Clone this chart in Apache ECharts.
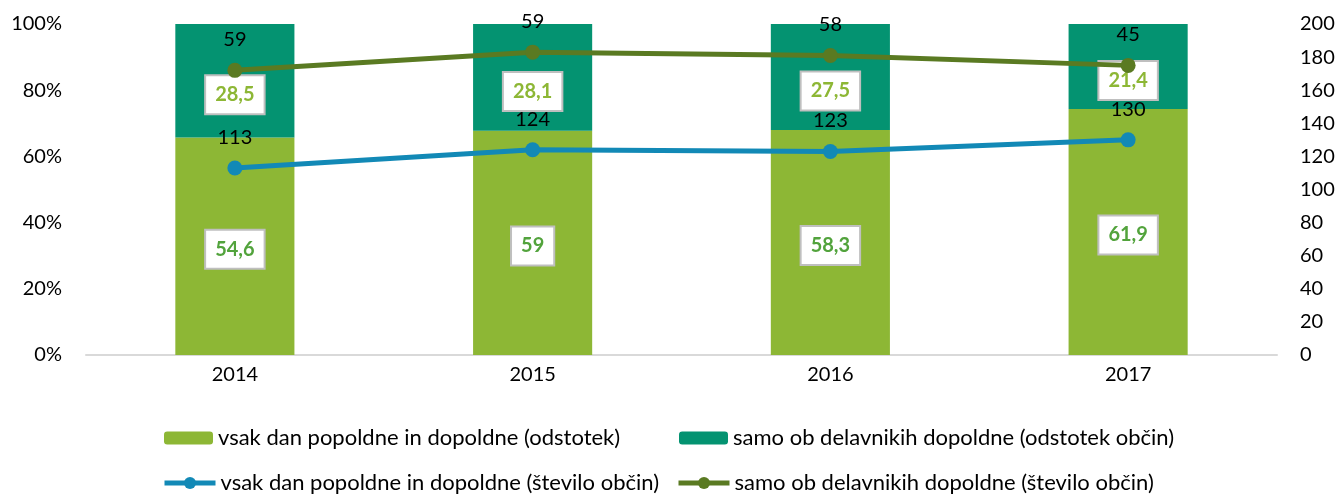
<!DOCTYPE html>
<html><head><meta charset="utf-8">
<script src="https://cdn.jsdelivr.net/npm/echarts@6/dist/echarts.min.js"></script>
<style>html,body{margin:0;padding:0;background:#fff}#c{width:1340px;height:495px}</style>
</head><body><div id="c"></div>
<script>
// ---- data ----
const years = ['2014', '2015', '2016', '2017'];
const vsakPct = [54.6, 59, 58.3, 61.9];      // vsak dan popoldne in dopoldne (odstotek)
const samoPct = [28.5, 28.1, 27.5, 21.4];    // samo ob delavnikih dopoldne (odstotek občin)
const vsakCount = [113, 124, 123, 130];      // vsak dan popoldne in dopoldne (število občin)
const samoCount = [59, 59, 58, 45];          // samo ob delavnikih dopoldne (število občin)
const names = [
  'vsak dan popoldne in dopoldne (odstotek)',
  'samo ob delavnikih dopoldne (odstotek občin)',
  'vsak dan popoldne in dopoldne (število občin)',
  'samo ob delavnikih dopoldne (število občin)'
];

// 100% stacked shares (as in the original chart type)
const vsakShare = vsakPct.map((v, i) => v / (v + samoPct[i]) * 100);
const samoShare = samoPct.map((v, i) => v / (vsakPct[i] + v) * 100);

const FONT = 'Lato';
const fmt = v => String(v).replace('.', ',');
const boxLabel = (raw, color, offset) => ({
  show: true, position: 'inside', offset: offset,
  formatter: p => fmt(raw[p.dataIndex]),
  color: color, fontFamily: FONT, fontSize: 20, fontWeight: 'bold',
  backgroundColor: '#fff', borderColor: '#bfbfbf', borderWidth: 2,
  padding: [9, 9, 8, 9]
});
const lineLabel = {
  show: true, position: 'top', distance: 13,
  color: '#000', fontFamily: FONT, fontSize: 20
};

const chart = echarts.init(document.getElementById('c'), null, {renderer: 'canvas'});
const legendBase = (left, top, name, w, h) => ({
  left: left, top: top, padding: 0, itemWidth: w, itemHeight: h,
  data: [name], selectedMode: false,
  lineStyle: {width: 5},
  textStyle: {fontFamily: FONT, fontSize: 22, color: '#000', lineHeight: 24}
});
chart.setOption({
  animation: false,
  backgroundColor: '#fff',
  textStyle: {fontFamily: FONT},
  grid: {left: 86, right: 63, top: 24, bottom: 140},
  legend: [
    legendBase(164, 426, names[0], 49, 13),
    legendBase(679, 426, names[1], 49, 13),
    legendBase(162, 471, names[2], 51, 15),
    legendBase(676, 471, names[3], 51, 15)
  ],
  xAxis: {
    type: 'category', data: years,
    axisLine: {show: true, lineStyle: {color: '#d9d9d9', width: 2}},
    axisTick: {show: false},
    axisLabel: {color: '#000', fontFamily: FONT, fontSize: 20, margin: 10}
  },
  yAxis: [
    {
      type: 'value', min: 0, max: 100, interval: 20, position: 'left',
      axisLine: {show: false}, axisTick: {show: false}, splitLine: {show: false},
      axisLabel: {formatter: '{value}%', color: '#000', fontFamily: FONT, fontSize: 20, margin: 24}
    },
    {
      type: 'value', min: 0, max: 200, interval: 20, position: 'right',
      axisLine: {show: false}, axisTick: {show: false}, splitLine: {show: false},
      axisLabel: {color: '#000', fontFamily: FONT, fontSize: 20, margin: 23}
    }
  ],
  series: [
    {
      name: names[0], type: 'bar', stack: 'pct', yAxisIndex: 0, barWidth: '40%',
      data: vsakShare, itemStyle: {color: '#8DB735'},
      label: boxLabel(vsakPct, '#52A33C', [0, 3])
    },
    {
      name: names[1], type: 'bar', stack: 'pct', yAxisIndex: 0, barWidth: '40%',
      data: samoShare, itemStyle: {color: '#049371'},
      label: boxLabel(samoPct, '#8DB735', [0, 14])
    },
    {
      name: names[2], type: 'line', stack: 'cnt', yAxisIndex: 1,
      data: vsakCount, symbol: 'circle', symbolSize: 15,
      itemStyle: {color: '#1289B6'}, lineStyle: {color: '#1289B6', width: 5},
      label: lineLabel, z: 5
    },
    {
      name: names[3], type: 'line', stack: 'cnt', yAxisIndex: 1,
      data: samoCount, symbol: 'circle', symbolSize: 15,
      itemStyle: {color: '#5A7A22'}, lineStyle: {color: '#5A7A22', width: 5},
      label: lineLabel, z: 5
    }
  ]
});
</script>
</body></html>
